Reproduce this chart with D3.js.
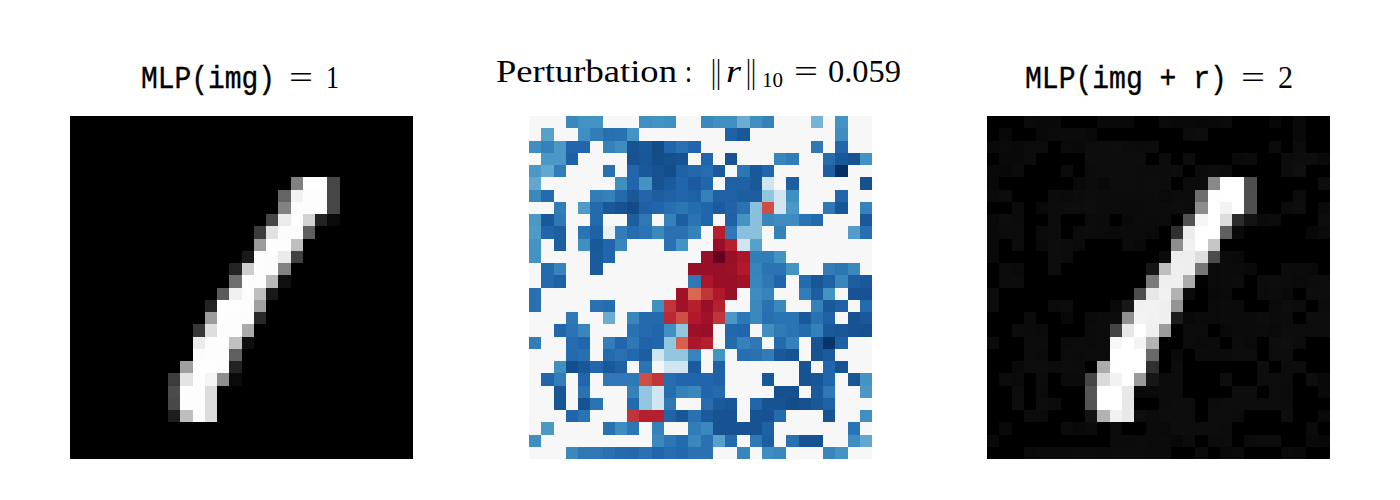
<!DOCTYPE html>
<html>
<head>
<meta charset="utf-8">
<script src="https://cdn.jsdelivr.net/npm/d3@7"></script>
<style>
    html, body { margin: 0; padding: 0; background: #fff; }
    svg { display: block; }
</style>
</head>
<body>
<svg id="chart" width="1400" height="500"></svg>
<script>
// original digit, grey levels 0-255
const img = [
    [0,0,0,0,0,0,0,0,0,0,0,0,0,0,0,0,0,0,0,0,0,0,0,0,0,0,0,0],
    [0,0,0,0,0,0,0,0,0,0,0,0,0,0,0,0,0,0,0,0,0,0,0,0,0,0,0,0],
    [0,0,0,0,0,0,0,0,0,0,0,0,0,0,0,0,0,0,0,0,0,0,0,0,0,0,0,0],
    [0,0,0,0,0,0,0,0,0,0,0,0,0,0,0,0,0,0,0,0,0,0,0,0,0,0,0,0],
    [0,0,0,0,0,0,0,0,0,0,0,0,0,0,0,0,0,0,0,0,0,0,0,0,0,0,0,0],
    [0,0,0,0,0,0,0,0,0,0,0,0,0,0,0,0,0,0,128,255,255,70,0,0,0,0,0,0],
    [0,0,0,0,0,0,0,0,0,0,0,0,0,0,0,0,0,100,242,253,253,70,0,0,0,0,0,0],
    [0,0,0,0,0,0,0,0,0,0,0,0,0,0,0,0,0,130,252,253,253,70,0,0,0,0,0,0],
    [0,0,0,0,0,0,0,0,0,0,0,0,0,0,0,0,70,236,253,210,35,10,0,0,0,0,0,0],
    [0,0,0,0,0,0,0,0,0,0,0,0,0,0,0,60,225,252,252,95,0,0,0,0,0,0,0,0],
    [0,0,0,0,0,0,0,0,0,0,0,0,0,0,0,155,253,253,190,0,0,0,0,0,0,0,0,0],
    [0,0,0,0,0,0,0,0,0,0,0,0,0,0,25,253,252,235,65,0,0,0,0,0,0,0,0,0],
    [0,0,0,0,0,0,0,0,0,0,0,0,0,35,205,253,252,130,0,0,0,0,0,0,0,0,0,0],
    [0,0,0,0,0,0,0,0,0,0,0,0,0,110,252,253,185,15,0,0,0,0,0,0,0,0,0,0],
    [0,0,0,0,0,0,0,0,0,0,0,0,90,240,252,190,25,0,0,0,0,0,0,0,0,0,0,0],
    [0,0,0,0,0,0,0,0,0,0,0,35,254,254,253,160,0,0,0,0,0,0,0,0,0,0,0,0],
    [0,0,0,0,0,0,0,0,0,0,0,155,253,253,252,40,0,0,0,0,0,0,0,0,0,0,0,0],
    [0,0,0,0,0,0,0,0,0,0,55,222,253,253,170,0,0,0,0,0,0,0,0,0,0,0,0,0],
    [0,0,0,0,0,0,0,0,0,0,235,253,253,192,15,0,0,0,0,0,0,0,0,0,0,0,0,0],
    [0,0,0,0,0,0,0,0,0,0,252,253,253,95,0,0,0,0,0,0,0,0,0,0,0,0,0,0],
    [0,0,0,0,0,0,0,0,0,160,254,254,253,35,0,0,0,0,0,0,0,0,0,0,0,0,0,0],
    [0,0,0,0,0,0,0,0,60,228,253,245,142,10,0,0,0,0,0,0,0,0,0,0,0,0,0,0],
    [0,0,0,0,0,0,0,0,75,253,253,220,0,0,0,0,0,0,0,0,0,0,0,0,0,0,0,0],
    [0,0,0,0,0,0,0,0,72,253,253,220,0,0,0,0,0,0,0,0,0,0,0,0,0,0,0,0],
    [0,0,0,0,0,0,0,0,30,190,253,220,0,0,0,0,0,0,0,0,0,0,0,0,0,0,0,0],
    [0,0,0,0,0,0,0,0,0,0,0,0,0,0,0,0,0,0,0,0,0,0,0,0,0,0,0,0],
    [0,0,0,0,0,0,0,0,0,0,0,0,0,0,0,0,0,0,0,0,0,0,0,0,0,0,0,0],
    [0,0,0,0,0,0,0,0,0,0,0,0,0,0,0,0,0,0,0,0,0,0,0,0,0,0,0,0]
];

// perturbation, -1 (red) to 1 (blue)
const perturbation = [
    [0,0,0,.65,.6,.6,0,0,0,.62,.6,.62,0,0,.65,.62,.62,.5,.62,.68,0,0,0,.47,0,.6,0,0],
    [0,.55,0,0,.62,.7,.76,.75,.6,0,0,0,0,0,0,0,.82,.85,0,0,0,0,0,0,0,.63,0,0],
    [.62,.68,.58,.8,.8,0,.68,.63,.87,.85,.9,.8,.75,.8,0,0,0,0,0,0,0,0,0,.72,0,.8,0,0],
    [0,.58,.58,.82,0,0,0,0,.87,.86,.89,.88,.87,0,.8,0,.87,0,0,0,.66,.7,0,0,.77,.85,.87,.6],
    [.58,.52,.7,0,0,0,.75,0,.8,.85,.87,.89,.82,.79,.77,.84,0,.73,.85,.8,0,0,0,0,.83,1,0,0],
    [.52,0,0,0,0,0,0,.62,.8,.6,.87,.84,.8,.84,.8,0,.82,.82,.85,.2,0,.83,0,0,0,0,0,.88],
    [.65,.78,0,0,0,.7,.68,.78,.85,.8,.83,.82,.8,.82,.68,.82,.82,.83,.83,.4,.2,.62,0,0,0,.8,0,0],
    [0,0,.7,0,.57,.78,.85,.87,.9,.82,.8,.76,.73,.77,.8,.84,.81,.75,.42,-.65,.2,.58,0,0,.72,.86,0,.67],
    [.58,.85,.72,0,0,.78,0,0,.83,.72,0,.68,.83,.74,.8,0,.82,.6,.42,.66,.63,.63,.74,.78,0,0,0,.85],
    [.57,.8,.83,0,.74,.82,.08,.7,.77,.74,.65,.75,.75,.68,0,-.78,.72,.42,.42,0,.68,0,0,0,0,0,.56,.76],
    [.6,0,.83,0,.62,.85,.8,.66,0,0,0,.75,.6,0,0,-.87,-.78,.2,.55,0,0,0,0,0,0,0,0,0],
    [.6,0,0,0,0,.84,.8,0,0,0,0,0,0,0,-.87,-1,-.87,-.82,.7,.7,.6,0,0,0,0,0,0,0],
    [0,.78,.67,0,0,.84,0,0,0,0,0,0,0,-.87,-.87,-.87,-.86,-.8,.67,.74,.74,.6,0,0,.7,.73,.65,0],
    [0,.78,.82,0,0,0,0,0,0,0,0,0,0,.72,-.82,-.87,-.87,-.85,.66,.72,.8,0,.78,.86,.82,.66,.83,.85],
    [.75,0,0,0,0,0,0,0,0,0,0,0,-.85,-.58,-.72,-.8,-.87,0,.63,.67,0,0,.7,.83,.6,0,.87,.87],
    [.75,0,0,0,0,.75,.77,0,0,0,.62,-.72,-.85,-.78,-.87,-.78,0,0,.65,.75,.65,0,0,.68,.85,.82,0,.78],
    [0,0,0,.72,0,0,.5,0,.66,.78,.78,-.75,-.65,-.8,-.85,-.72,.58,.72,.65,.76,.74,.74,.85,.75,.82,0,.87,.85],
    [0,0,.8,.74,.66,0,0,0,.75,.78,.8,.62,.4,-.86,-.87,0,.79,.8,0,.62,.71,.74,.78,.68,.85,.86,.87,.88],
    [.7,0,0,.77,.8,0,.7,.8,.72,.81,.8,.4,-.6,-.82,-.78,0,.78,.68,.72,0,.78,.68,0,.87,.98,.82,0,0],
    [0,0,0,.78,.76,0,.78,.75,.79,.83,.2,.4,.4,.67,0,.6,0,.76,.75,.7,.85,.87,0,.87,.84,0,0,0],
    [0,0,.62,.89,.85,.8,.85,.82,0,.74,.01,.2,.2,.84,0,.82,0,0,0,0,0,0,.87,0,.8,.87,0,0],
    [0,.8,.7,0,.8,0,.72,.72,.72,-.65,-.72,.77,.8,.8,.8,.82,0,0,0,.85,0,0,.87,.86,.8,0,.86,.6],
    [0,0,.86,0,.74,0,0,0,.68,.4,.2,.77,.68,.65,.8,.78,0,0,0,0,.88,.88,0,.84,.72,0,0,.58],
    [0,0,.86,0,.87,.74,0,0,.78,.4,.2,.72,0,0,.77,.84,.86,0,.8,.87,.87,.89,.88,.85,.82,0,0,0],
    [0,0,0,.8,.74,0,0,0,-.72,-.78,-.78,.81,.86,.75,.84,.87,.87,0,.87,.87,.78,0,0,0,.87,0,0,.62],
    [0,.58,0,0,0,0,.75,.63,.73,0,.68,0,0,.7,.65,.87,.87,.87,.87,.82,0,0,0,0,0,0,.74,0],
    [.62,0,0,0,0,0,0,0,0,0,.65,.73,.78,.65,.75,.55,.78,0,.72,.83,0,.75,.87,.87,0,0,.63,.52],
    [0,0,0,.65,.72,.72,.75,.78,.79,.75,.8,.77,.79,.75,.75,0,0,.66,0,.63,.65,0,0,0,.66,.6,0,0]
];

// perturbed digit, grey levels 0-255
const imgPlusR = [
    [0,0,0,10,9,9,0,0,0,9,9,9,0,0,10,9,9,8,9,10,0,0,0,7,0,9,0,0],
    [0,8,0,0,9,11,11,11,9,0,0,0,0,0,0,0,12,13,0,0,0,0,0,0,0,9,0,0],
    [9,10,9,12,12,0,10,9,13,13,14,12,11,12,0,0,0,0,0,0,0,0,0,11,0,12,0,0],
    [0,9,9,12,0,0,0,0,13,13,13,13,13,0,12,0,13,0,0,0,10,11,0,0,12,13,13,9],
    [9,8,11,0,0,0,11,0,12,13,13,13,12,12,12,13,0,11,13,12,0,0,0,0,12,15,0,0],
    [8,0,0,0,0,0,0,9,12,9,13,13,12,13,12,0,12,12,136,255,255,78,0,0,0,0,0,13],
    [10,12,0,0,0,11,10,12,13,12,12,12,12,12,10,12,12,110,254,255,255,79,0,0,0,12,0,0],
    [0,0,11,0,9,12,13,13,14,12,12,11,11,12,12,13,12,141,255,243,255,79,0,0,11,13,0,10],
    [9,13,11,0,0,12,0,0,12,11,0,10,12,11,12,0,82,245,255,220,44,19,11,12,0,0,0,13],
    [9,12,12,0,11,12,1,11,12,11,10,11,11,10,0,48,236,255,255,95,10,0,0,0,0,0,8,11],
    [9,0,12,0,9,13,12,10,0,0,0,11,9,0,0,141,241,255,198,0,0,0,0,0,0,0,0,0],
    [9,0,0,0,0,13,12,0,0,0,0,0,0,0,11,238,238,222,76,11,9,0,0,0,0,0,0,0],
    [0,12,10,0,0,13,0,0,0,0,0,0,0,21,191,239,238,118,10,11,11,9,0,0,11,11,10,0],
    [0,12,12,0,0,0,0,0,0,0,0,0,0,121,239,239,171,2,10,11,12,0,12,13,12,10,12,13],
    [11,0,0,0,0,0,0,0,0,0,0,0,77,231,241,178,11,0,9,10,0,0,11,12,9,0,13,13],
    [11,0,0,0,0,11,12,0,0,0,9,24,241,242,239,148,0,0,10,11,10,0,0,10,13,12,0,12],
    [0,0,0,11,0,0,8,0,10,12,12,144,243,241,239,29,9,11,10,11,11,11,13,11,12,0,13,13],
    [0,0,12,11,10,0,0,0,11,12,67,231,255,239,156,0,12,12,0,9,11,11,12,10,13,13,13,13],
    [11,0,0,12,12,0,11,12,11,12,247,255,244,179,3,0,12,10,11,0,12,10,0,13,15,12,0,0],
    [0,0,0,12,11,0,12,11,12,12,255,255,255,105,0,9,0,11,11,11,13,13,0,13,13,0,0,0],
    [0,0,9,13,13,12,13,12,0,171,254,255,255,48,0,12,0,0,0,0,0,0,13,0,12,13,0,0],
    [0,12,11,0,12,0,11,11,71,218,242,255,154,22,12,12,0,0,0,13,0,0,13,13,12,0,13,9],
    [0,0,13,0,11,0,0,0,85,255,255,232,10,10,12,12,0,0,0,0,13,13,0,13,11,0,0,9],
    [0,0,13,0,13,11,0,0,84,255,255,231,0,0,12,13,13,0,12,13,13,13,13,13,12,0,0,0],
    [0,0,0,12,11,0,0,0,19,178,241,232,13,11,13,13,13,0,13,13,12,0,0,0,13,0,0,9],
    [0,9,0,0,0,0,11,9,11,0,10,0,0,11,10,13,13,13,13,12,0,0,0,0,0,0,11,0],
    [9,0,0,0,0,0,0,0,0,0,10,11,12,10,11,8,12,0,11,12,0,11,13,13,0,0,9,8],
    [0,0,0,10,11,11,11,12,12,11,12,12,12,11,11,0,0,10,0,9,10,0,0,0,10,9,0,0]
];

const rdBuStops = ["#67001f", "#b2182b", "#d6604d", "#f4a582", "#fddbc7", "#f7f7f7",
    "#d1e5f0", "#92c5de", "#4393c3", "#2166ac", "#053061"];

const svg = d3.select("#chart");
const panelSize = 343;
const panelTop = 116;

let greyScale = d3.scaleLinear().domain([0, 255]).range(["#000000", "#ffffff"]);
let rdBuScale = d3.scaleLinear().domain(d3.range(-1, 1.01, 0.2)).range(rdBuStops);

/**
 * Draws one 28x28 matrix as a block of cells
 */
function drawPanel(matrix, left, colorScale) {
    let x = d3.scaleBand().domain(d3.range(28)).range([left, left + panelSize]);
    let y = d3.scaleBand().domain(d3.range(28)).range([panelTop, panelTop + panelSize]);

    let rows = svg.append("g")
        .attr("shape-rendering", "crispEdges")
        .selectAll("g")
        .data(matrix)
        .join("g");

    rows.selectAll("rect")
        .data((row, i) => row.map((v, j) => ({v: v, i: i, j: j})))
        .join("rect")
        .attr("x", d => x(d.j))
        .attr("y", d => y(d.i))
        .attr("width", x.bandwidth())
        .attr("height", y.bandwidth())
        .attr("fill", d => colorScale(d.v));
}

/**
 * Places one piece of a title, scaled sideways to the width it has in the picture
 */
function titlePiece(text, left, baseline, size, family, width, style, weight) {
    let piece = svg.append("text")
        .attr("font-size", size)
        .attr("font-family", family)
        .attr("font-style", style || "normal")
        .attr("stroke", "#000")
        .attr("stroke-width", weight || 0)
        .attr("fill", "#000")
        .text(text);

    let scaleX = width / piece.node().getComputedTextLength();
    piece.attr("transform", "translate(" + left + "," + baseline + ") scale(" + scaleX + ",1)");
}

drawPanel(img, 70, greyScale);
drawPanel(perturbation, 529, rdBuScale);
drawPanel(imgPlusR, 987, greyScale);

const mono = "'Liberation Mono', monospace";
const serif = "'Liberation Serif', serif";

// left title
titlePiece("MLP(img)", 141, 88, 31, mono, 134, "normal", 0.4);
titlePiece("=", 289, 88, 32, serif, 24);
titlePiece("1", 326, 88, 31, serif, 13);

// middle title
titlePiece("Perturbation", 496, 82, 32, serif, 181);
titlePiece(":", 685, 82, 32, serif, 7);
titlePiece("||", 711, 83, 33, serif, 10);
titlePiece("r", 726, 82, 32, serif, 15, "italic");
titlePiece("||", 746, 83, 33, serif, 10);
titlePiece("10", 762, 87, 21, serif, 21);
titlePiece("=", 794, 82, 32, serif, 24);
titlePiece("0.059", 828, 82, 32, serif, 73);

// right title
titlePiece("MLP(img + r)", 1025, 88, 31, mono, 202, "normal", 0.4);
titlePiece("=", 1241, 88, 32, serif, 24);
titlePiece("2", 1278, 88, 31, serif, 15);
</script>
</body>
</html>
